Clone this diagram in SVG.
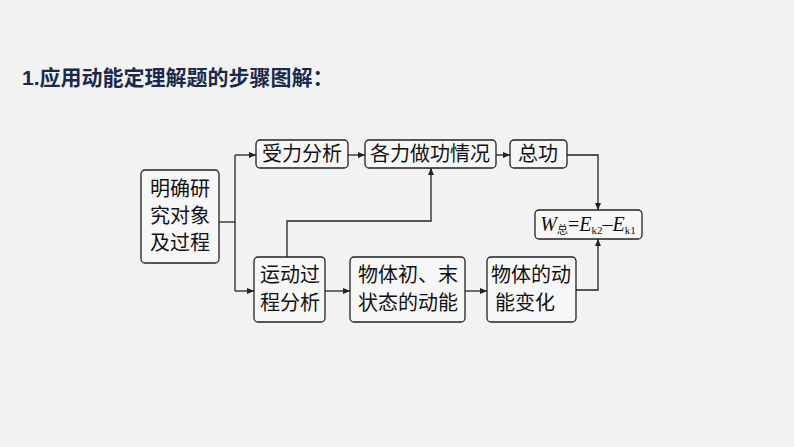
<svg xmlns="http://www.w3.org/2000/svg" width="794" height="447" viewBox="0 0 794 447">
<style>
.b{fill:#f7f7f7;stroke:#222;stroke-width:1.3}
.t{font-family:"Liberation Serif","Noto Sans CJK SC",serif;font-size:20px;fill:#111}
.c{fill:none;stroke:#222;stroke-width:1.3}
</style>
<defs><marker id="a" markerWidth="8" markerHeight="8" refX="7" refY="4" orient="auto" markerUnits="userSpaceOnUse"><path d="M0,1 L7,4 L0,7z" fill="#222"/></marker></defs>
<rect width="794" height="447" fill="#f2f2f2"/>
<text x="22" y="85" font-family="Liberation Sans,Noto Sans CJK SC,sans-serif" font-size="21" font-weight="bold" fill="#1b2a4a">1.应用动能定理解题的步骤图解：</text>
<g id="n1"><rect class="b" x="141" y="170" width="78" height="93" rx="4"/><text class="t" x="180" y="196" text-anchor="middle">明确研</text><text class="t" x="180" y="223" text-anchor="middle">究对象</text><text class="t" x="180" y="250" text-anchor="middle">及过程</text></g>
<g id="n2"><rect class="b" x="256" y="140" width="92" height="28" rx="4"/><text class="t" x="302" y="161" text-anchor="middle">受力分析</text></g>
<g id="n3"><rect class="b" x="365" y="140" width="131" height="28" rx="4"/><text class="t" x="430" y="161" text-anchor="middle">各力做功情况</text></g>
<g id="n4"><rect class="b" x="510" y="140" width="57" height="28" rx="4"/><text class="t" x="538" y="161" text-anchor="middle">总功</text></g>
<g id="n5"><rect class="b" x="535" y="210" width="107" height="29" rx="4"/><text class="t" x="588" y="231" text-anchor="middle" font-size="18"><tspan font-style="italic">W</tspan><tspan font-size="11" dy="3">总</tspan><tspan dy="-3">=</tspan><tspan font-style="italic">E</tspan><tspan font-size="11" dy="3">k2</tspan><tspan dy="-3">–</tspan><tspan font-style="italic">E</tspan><tspan font-size="11" dy="3">k1</tspan></text></g>
<g id="n6"><rect class="b" x="254" y="257" width="71" height="65" rx="4"/><text class="t" x="290" y="282" text-anchor="middle">运动过</text><text class="t" x="290" y="310" text-anchor="middle">程分析</text></g>
<g id="n7"><rect class="b" x="350" y="257" width="115" height="65" rx="4"/><text class="t" x="408" y="282" text-anchor="middle">物体初、末</text><text class="t" x="408" y="310" text-anchor="middle">状态的动能</text></g>
<g id="n8"><rect class="b" x="487" y="257" width="89" height="65" rx="4"/><text class="t" x="531" y="282" text-anchor="middle">物体的动</text><text class="t" x="525" y="310" text-anchor="middle">能变化</text></g>
<g id="connectors">
<path class="c" d="M219,222 H235"/>
<path class="c" d="M235,155 V291"/>
<path class="c" d="M235,155 H256" marker-end="url(#a)"/>
<path class="c" d="M235,291 H254" marker-end="url(#a)"/>
<path class="c" d="M348,155 H365" marker-end="url(#a)"/>
<path class="c" d="M496,155 H510" marker-end="url(#a)"/>
<path class="c" d="M287,257 V221 H431 V168" marker-end="url(#a)"/>
<path class="c" d="M567,155 H598 V210" marker-end="url(#a)"/>
<path class="c" d="M576,290 H598 V239" marker-end="url(#a)"/>
<path class="c" d="M325,291 H350" marker-end="url(#a)"/>
<path class="c" d="M465,291 H487" marker-end="url(#a)"/>
</g>
</svg>
